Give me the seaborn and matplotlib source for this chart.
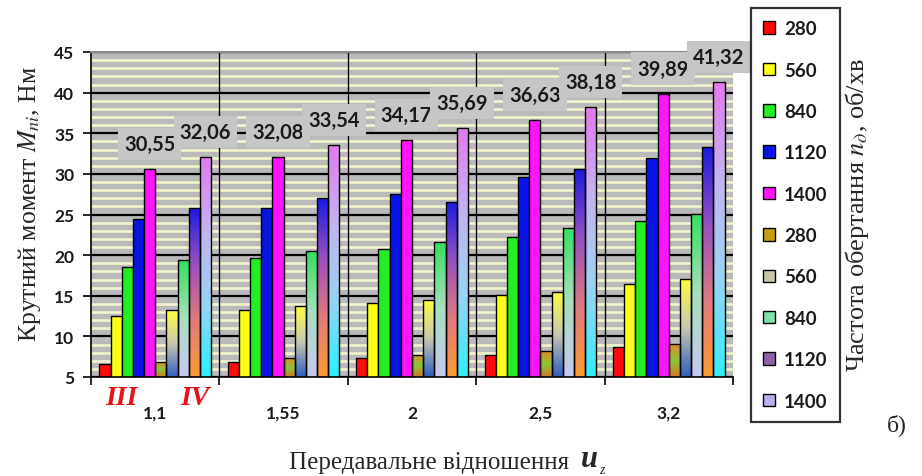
import numpy as np
import pandas as pd
import matplotlib
matplotlib.use("Agg")
import matplotlib.pyplot as plt
from matplotlib.colors import LinearSegmentedColormap
from matplotlib.patches import Patch
from matplotlib.ticker import MultipleLocator, FixedLocator
import matplotlib.transforms as mtransforms
import seaborn as sns

# Gear ratios and input-shaft speeds
ratios = ["1,1", "1,55", "2", "2,5", "3,2"]
speeds = [280, 560, 840, 1120, 1400]

# Torque for gearbox variant III, N·m (one list per speed)
m3_280 = [6.6, 6.8, 7.3, 7.75, 8.65]
m3_560 = [12.5, 13.2, 14.1, 15.1, 16.4]
m3_840 = [18.6, 19.6, 20.7, 22.2, 24.2]
m3_1120 = [24.5, 25.8, 27.5, 29.6, 32.0]
m3_1400 = [30.55, 32.08, 34.17, 36.63, 39.89]

# Torque for gearbox variant IV, N·m
m4_280 = [6.8, 7.3, 7.75, 8.2, 9.05]
m4_560 = [13.2, 13.7, 14.5, 15.5, 17.1]
m4_840 = [19.4, 20.5, 21.65, 23.4, 25.1]
m4_1120 = [25.8, 27.0, 26.6, 30.6, 33.3]
m4_1400 = [32.06, 33.54, 35.69, 38.18, 41.32]

series_III = [m3_280, m3_560, m3_840, m3_1120, m3_1400]
series_IV = [m4_280, m4_560, m4_840, m4_1120, m4_1400]

rows = []
for grp, block in (("III", series_III), ("IV", series_IV)):
    for sp, vals in zip(speeds, block):
        for r, v in zip(ratios, vals):
            rows.append({"u": r, "M": v, "series": f"{grp} {sp}"})
df = pd.DataFrame(rows)
hue_order = [f"III {s}" for s in speeds] + [f"IV {s}" for s in speeds]

solid = ["#ff0a0a", "#ffff1a", "#22ee22", "#0a14e6", "#ff14ff"]
gradients = [
    ["#e08a2a", "#8cc43c", "#d07a2a"],
    ["#ffff40", "#c8c8b0", "#2f5fc0"],
    ["#33e05a", "#a8e0c0", "#c8c8f0"],
    ["#1a1ae0", "#9850c0", "#e07a80", "#ff9a30"],
    ["#e27af0", "#c4b4f0", "#98d4f4", "#30f0ff"],
]
legend_iv = ["#c0a010", "#c8c8a8", "#80e0a8", "#9060a8", "#b8b0f0"]

sns.set_theme(style="white")
plt.rcParams["mathtext.fontset"] = "stix"

fig = plt.figure(figsize=(9.22, 4.77), dpi=100)
ax = fig.add_axes([91 / 922, 1 - 378 / 477, (733 - 91) / 922, (378 - 53) / 477])
ax.set_facecolor("#bababa")

palette = dict(zip(hue_order, solid + [g[0] for g in gradients]))
sns.barplot(data=df, x="u", y="M", hue="series", hue_order=hue_order,
            palette=palette, width=0.87, saturation=1, edgecolor="black",
            linewidth=1.0, legend=False, ax=ax)

ymin, ymax = 5, 45
ax.set_ylim(ymin, ymax)
ax.set_xlim(-0.5, 4.5)

# Gradient fills for the variant IV bars
for k, cols in enumerate(gradients):
    cmap = LinearSegmentedColormap.from_list(f"g{k}", cols)
    grad = np.linspace(0, 1, 256).reshape(-1, 1)
    for patch in ax.containers[5 + k]:
        x0, w, h = patch.get_x(), patch.get_width(), patch.get_height()
        im = ax.imshow(grad, cmap=cmap, extent=[x0, x0 + w, ymin, h],
                       aspect="auto", origin="upper", interpolation="bilinear",
                       zorder=patch.get_zorder() - 0.01)
        im.set_clip_path(patch)
        patch.set_facecolor("none")

ax.set_ylim(ymin, ymax)
ax.set_xlim(-0.5, 4.5)

# Striped background and grid
ax.set_axisbelow(True)
ax.yaxis.set_major_locator(MultipleLocator(5))
ax.yaxis.set_minor_locator(MultipleLocator(1))
ax.grid(which="minor", axis="y", color="#f4f4cc", linewidth=1.9)
ax.grid(which="major", axis="y", color="black", linewidth=1.6)
for b in np.arange(0.5, 4.5, 1.0):
    ax.axvline(b, color="black", linewidth=1.0, zorder=0.6)

ax.spines["right"].set_visible(False)
ax.spines["top"].set_color("#8a8a8a")
ax.spines["top"].set_linewidth(1.5)
for side in ("left", "bottom"):
    ax.spines[side].set_color("black")
    ax.spines[side].set_linewidth(1.2)

num_font = "Lato"
ax.tick_params(axis="y", which="major", length=6, width=1.2, color="black",
               direction="out", pad=6, left=True, labelsize=12.5)
ax.tick_params(axis="y", which="minor", length=0)
ax.xaxis.set_minor_locator(FixedLocator(np.arange(-0.5, 5.0, 1.0)))
ax.tick_params(axis="x", which="minor", length=6, width=1.2, color="black",
               direction="out", bottom=True)
ax.tick_params(axis="x", which="major", length=0, pad=20, labelsize=12.5)
for lab in ax.get_yticklabels() + ax.get_xticklabels():
    lab.set_fontfamily(num_font)
    lab.set_fontweight("bold")
    lab.set_color("#1a1a1a")
ax.set_xlabel("")
ax.set_ylabel("")

# Value labels above the 1400 rpm bars
for ci in (4, 9):
    for patch in ax.containers[ci]:
        v = patch.get_height()
        ax.annotate(f"{v:.2f}".replace(".", ","),
                    xy=(patch.get_x() + patch.get_width() / 2, v),
                    xytext=(0, 18), textcoords="offset points",
                    ha="center", va="center", fontsize=14.5,
                    fontfamily=num_font, fontweight="bold", color="#1a1a1a",
                    bbox=dict(boxstyle="square,pad=0.3", fc="#c6c6c6", ec="none"),
                    annotation_clip=False, zorder=5)

# Variant markers under the first group
trans = mtransforms.blended_transform_factory(ax.transData, ax.transAxes)
for xpos, txt in ((-0.26, "III"), (0.31, "IV")):
    ax.text(xpos, -0.062, txt, transform=trans, ha="center", va="center",
            color="#e8101a", fontsize=20, fontweight="bold",
            fontstyle="italic", fontfamily="Liberation Serif")

# Axis titles
serif = "Liberation Serif"
fig.text(30 / 922, 1 - 204 / 477, r"Крутний момент $M_{ni}$, Нм", rotation=90,
         ha="center", va="center", fontsize=18.5, fontfamily=serif)
xl = fig.text(289 / 922, 1 - 463 / 477, "Передавальне відношення", ha="left",
              va="center", fontsize=18, fontfamily=serif)
fig.canvas.draw()
ext = xl.get_window_extent()
ux = (ext.x1 + 12) / 922
ut = fig.text(ux, 1 - 460 / 477, "u", ha="left", va="center", fontsize=22,
              fontfamily=serif, fontweight="bold", fontstyle="italic")
fig.canvas.draw()
uext = ut.get_window_extent()
fig.text((uext.x1 + 1) / 922, 1 - 471 / 477, "z", ha="left", va="center",
         fontsize=10, fontfamily=serif, fontstyle="italic")
fig.text(857 / 922, 1 - 215 / 477, r"Частота обертання $n_{д}$, об/хв",
         rotation=90, ha="center", va="center", fontsize=19, fontfamily=serif)
fig.text(897 / 922, 1 - 425 / 477, "б)", ha="center", va="center",
         fontsize=17, fontfamily=serif)

# Legend
handles = [Patch(facecolor=c, edgecolor="black", linewidth=1.0)
           for c in solid + legend_iv]
labels = [str(s) for s in speeds] * 2
leg = fig.legend(handles, labels, loc="upper left",
                 bbox_to_anchor=(751 / 922, 1 - 9 / 477), borderaxespad=0,
                 frameon=True, fancybox=False, handlelength=0.65,
                 handleheight=0.65, handletextpad=0.45, labelspacing=1.3,
                 borderpad=0.65, prop={"family": num_font, "weight": "bold",
                                       "size": 13.5})
leg.get_frame().set_edgecolor("black")
leg.get_frame().set_linewidth(1.6)
for t in leg.get_texts():
    t.set_color("#1a1a1a")

fig.savefig("out.png", dpi=100)
